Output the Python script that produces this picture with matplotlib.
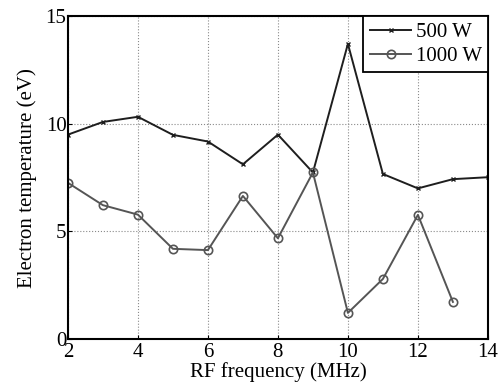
import numpy as np
import matplotlib
matplotlib.use("Agg")
import matplotlib.pyplot as plt

plt.rcParams.update({
    "font.family": "Liberation Serif",
    "font.size": 15,
})

freq_500 = [2, 3, 4, 5, 6, 7, 8, 9, 10, 11, 12, 13, 14]
te_500 = [9.5, 10.09, 10.33, 9.49, 9.18, 8.12, 9.5, 7.74, 13.72, 7.67, 7.0, 7.43, 7.52]

freq_1000 = [2, 3, 4, 5, 6, 7, 8, 9, 10, 11, 12, 13]
te_1000 = [7.26, 6.22, 5.78, 4.19, 4.13, 6.65, 4.68, 7.74, 1.21, 2.79, 5.77, 1.72]

DARK = "#1e1e1e"
GRAY = "#555555"

fig = plt.figure(figsize=(5.03, 3.90), dpi=100)
ax = fig.add_axes([0.135, 0.131, 0.835, 0.827])

ax.plot(freq_500, te_500, color=DARK, lw=1.4, marker="x", ms=3.5, mew=1.0,
        label="500 W")
ax.plot(freq_1000, te_1000, color=GRAY, lw=1.4, marker="o", ms=6, mew=1.2,
        mfc="none", label="1000 W")

ax.set_xlim(2, 14)
ax.set_ylim(0, 15)
ax.set_xticks([2, 4, 6, 8, 10, 12, 14])
ax.set_yticks([0, 5, 10, 15])
ax.grid(True, color="#8a8a8a", ls=":", lw=0.8)
ax.tick_params(direction="in", length=3, width=0.8, labelsize=15)
ax.tick_params(axis="x", pad=3)
ax.tick_params(axis="y", pad=1)
for sp in ax.spines.values():
    sp.set_linewidth(1.5)

ax.set_xlabel("RF frequency (MHz)", fontsize=15, labelpad=0)
ax.set_ylabel("Electron temperature (eV)", fontsize=15, labelpad=6)

leg = ax.legend(loc="upper right", borderaxespad=0, fancybox=False,
                framealpha=1, edgecolor="black", handlelength=2.0,
                handletextpad=0.2, borderpad=0.3, labelspacing=0.2,
                fontsize=15)
leg.get_frame().set_linewidth(1.3)

fig.savefig("out.png", dpi=100)
